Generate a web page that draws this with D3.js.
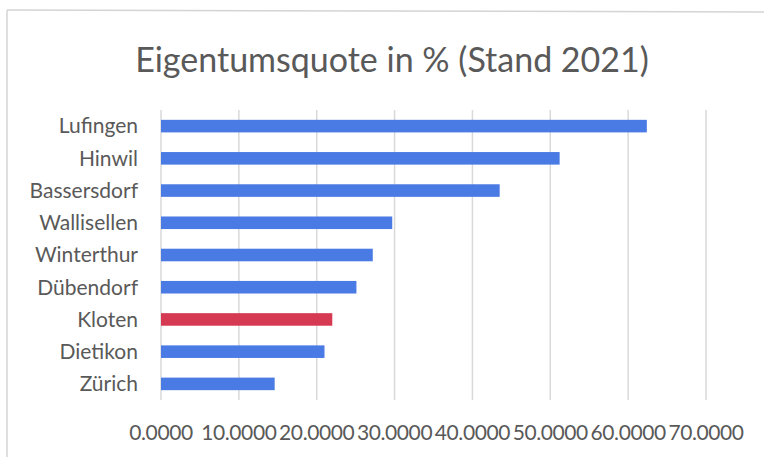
<!DOCTYPE html>
<html>
<head>
<meta charset="utf-8">
<script src="https://cdn.jsdelivr.net/npm/d3@7"></script>
<style>
  body { margin: 0; background: #fff; }
  text { font-family: Lato, "Open Sans", sans-serif; fill: #595959; }
</style>
</head>
<body>
<div id="chart"></div>
<script>
// values
var orte = ["Lufingen", "Hinwil", "Bassersdorf", "Wallisellen", "Winterthur", "Dübendorf", "Kloten", "Dietikon", "Zürich"];
var quote = [62.4, 51.2, 43.5, 29.7, 27.2, 25.1, 22.0, 21.0, 14.6];
var ticks = [0, 10, 20, 30, 40, 50, 60, 70];
var highlight = "Kloten";

var width = 764,
    height = 457,
    margin = {left: 161, right: 58, top: 110, bottom: 57};

var svg = d3.select("#chart").append("svg")
    .attr("width", width)
    .attr("height", height);

// chart frame (only top and left edge visible in the scan)
svg.append("line")
    .attr("x1", 7).attr("x2", width)
    .attr("y1", 10).attr("y2", 12)
    .attr("stroke", "#d4d4d4").attr("stroke-width", 1.5);
svg.append("line")
    .attr("x1", 7).attr("x2", 7)
    .attr("y1", 10).attr("y2", height)
    .attr("stroke", "#d4d4d4").attr("stroke-width", 1.5);

var x = d3.scaleLinear()
    .domain([0, 70])
    .range([margin.left, width - margin.right]);

var y = d3.scaleBand()
    .domain(orte)
    .range([margin.top, height - margin.bottom])
    .paddingInner(0.61)
    .paddingOuter(0.305);

svg.append("text")
    .attr("x", 392)
    .attr("y", 72)
    .attr("text-anchor", "middle")
    .style("font-size", "34px")
    .text("Eigentumsquote in % (Stand 2021)");

// gridlines
svg.append("g")
    .selectAll("line")
    .data(ticks)
    .enter().append("line")
    .attr("x1", x).attr("x2", x)
    .attr("y1", margin.top)
    .attr("y2", height - margin.bottom)
    .attr("stroke", "#d9d9d9")
    .attr("stroke-width", 1.5);

// bars
svg.append("g")
    .selectAll("rect")
    .data(orte)
    .enter().append("rect")
    .attr("x", x(0))
    .attr("y", function(d) { return y(d); })
    .attr("width", function(d, i) { return x(quote[i]) - x(0); })
    .attr("height", y.bandwidth())
    .attr("fill", function(d) { return d == highlight ? "#d63a52" : "#4a7ae3"; });

// category labels
svg.append("g")
    .selectAll("text")
    .data(orte)
    .enter().append("text")
    .attr("x", 138)
    .attr("y", function(d) { return y(d) + y.bandwidth() / 2; })
    .attr("dy", "0.35em")
    .attr("text-anchor", "end")
    .style("font-size", "21px")
    .text(function(d) { return d; });

// value axis labels
svg.append("g")
    .selectAll("text")
    .data(ticks)
    .enter().append("text")
    .attr("x", x)
    .attr("y", 433)
    .attr("dy", "0.35em")
    .attr("text-anchor", "middle")
    .style("font-size", "21px")
    .style("letter-spacing", "-0.4px")
    .text(d3.format(".4f"));
</script>
</body>
</html>
